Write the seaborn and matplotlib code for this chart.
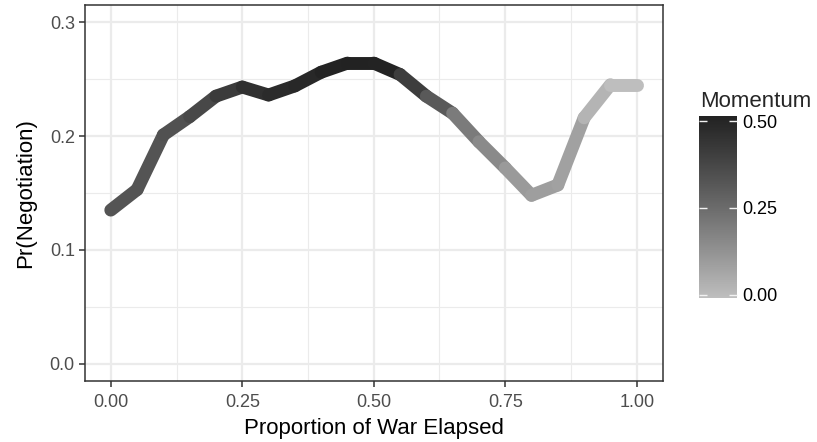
import numpy as np
import matplotlib
matplotlib.use("Agg")
import matplotlib.pyplot as plt
from matplotlib.collections import LineCollection
from matplotlib.colors import ListedColormap, Normalize
from matplotlib.ticker import FixedLocator, FuncFormatter
import seaborn as sns

# Predicted probability of negotiation over the course of a war
war_elapsed = [0.00, 0.05, 0.10, 0.15, 0.20, 0.25, 0.30, 0.35, 0.40, 0.45, 0.50,
               0.55, 0.60, 0.65, 0.70, 0.75, 0.80, 0.85, 0.90, 0.95, 1.00]
pr_negotiation = [0.135, 0.153, 0.201, 0.217, 0.235, 0.243, 0.236, 0.244, 0.256, 0.264, 0.264,
                  0.254, 0.235, 0.220, 0.195, 0.172, 0.148, 0.157, 0.216, 0.245, 0.245]
momentum = [0.33, 0.33, 0.34, 0.37, 0.42, 0.46, 0.48, 0.49, 0.51, 0.515, 0.51,
            0.41, 0.31, 0.20, 0.15, 0.10, 0.09, 0.08, 0.02, -0.01, -0.01]

x_ticks = [0.00, 0.25, 0.50, 0.75, 1.00]
y_ticks = [0.0, 0.1, 0.2, 0.3]
cbar_ticks = [0.00, 0.25, 0.50]

sns.set_theme(style="white")
plt.rcParams["font.family"] = ["Liberation Sans", "DejaVu Sans"]


def lab_grey_ramp(light, dark, n=256):
    """Grey ramp interpolated linearly in CIE L* (perceptual lightness)."""
    def to_L(g):
        c = g / 255.0
        lin = ((c + 0.055) / 1.055) ** 2.4 if c > 0.04045 else c / 12.92
        return 116 * lin ** (1 / 3) - 16 if lin > 0.008856 else 903.3 * lin

    def from_L(L):
        Y = ((L + 16) / 116) ** 3 if L > 8 else L / 903.3
        c = 1.055 * Y ** (1 / 2.4) - 0.055 if Y > 0.0031308 else 12.92 * Y
        return min(max(c, 0), 1)

    Ls = np.linspace(to_L(light), to_L(dark), n)
    return ListedColormap([(from_L(L),) * 3 for L in Ls])


cmap = lab_grey_ramp(190, 34)

fig = plt.figure(figsize=(8.17, 4.42), dpi=100)
W, H = 817, 442
ax = fig.add_axes([84.5 / W, 1 - 381 / H, (663 - 84.5) / W, 376 / H])

x = np.asarray(war_elapsed)
y = np.asarray(pr_negotiation)
m = np.asarray(momentum)
points = np.column_stack([x, y]).reshape(-1, 1, 2)
segments = np.concatenate([points[:-1], points[1:]], axis=1)
norm = Normalize(m.min(), m.max())
lc = LineCollection(segments, cmap=cmap, norm=norm, linewidths=9.3,
                    capstyle="round", joinstyle="round", zorder=3)
lc.set_array(m[:-1])
ax.add_collection(lc)

ax.set_xlim(-0.05, 1.05)
ax.set_ylim(-0.015, 0.315)
ax.xaxis.set_major_locator(FixedLocator(x_ticks))
ax.yaxis.set_major_locator(FixedLocator(y_ticks))
ax.xaxis.set_minor_locator(FixedLocator([0.125, 0.375, 0.625, 0.875]))
ax.yaxis.set_minor_locator(FixedLocator([0.05, 0.15, 0.25]))
ax.xaxis.set_major_formatter(FuncFormatter(lambda v, p: f"{v:.2f}"))
ax.yaxis.set_major_formatter(FuncFormatter(lambda v, p: f"{v:.1f}"))

ax.set_axisbelow(True)
ax.grid(which="major", color="#EBEBEB", linewidth=1.6)
ax.grid(which="minor", color="#EBEBEB", linewidth=0.8)
for sp in ax.spines.values():
    sp.set_color("#333333")
    sp.set_linewidth(1.1)
ax.tick_params(which="major", length=4, width=1.1, color="#333333",
               labelcolor="#4D4D4D", labelsize=13, pad=3,
               bottom=True, left=True)
ax.tick_params(axis="x", which="major", pad=5.5)
ax.tick_params(which="minor", length=0)

ax.set_xlabel("Proportion of War Elapsed", fontsize=16, color="black", labelpad=5)
ax.set_ylabel("Pr(Negotiation)", fontsize=16, color="black", labelpad=10)

# Momentum colour bar
cax = fig.add_axes([699 / W, 1 - 298 / H, 38 / W, 182 / H])
cb = fig.colorbar(lc, cax=cax, ticks=cbar_ticks)
cb.outline.set_visible(False)
cax.set_axisbelow(False)
cax.yaxis.set_major_formatter(FuncFormatter(lambda v, p: f"{v:.2f}"))
cax.tick_params(direction="in", length=5.5, width=1, color="#F2F2F2",
                left=True, right=True, labelleft=False, labelright=True,
                labelsize=13, labelcolor="black", pad=4)
cax.tick_params(which="minor", length=0)
fig.text(700 / W, 1 - 107 / H, "Momentum", fontsize=16, ha="left", va="baseline")

fig.savefig("out.png", dpi=100)
